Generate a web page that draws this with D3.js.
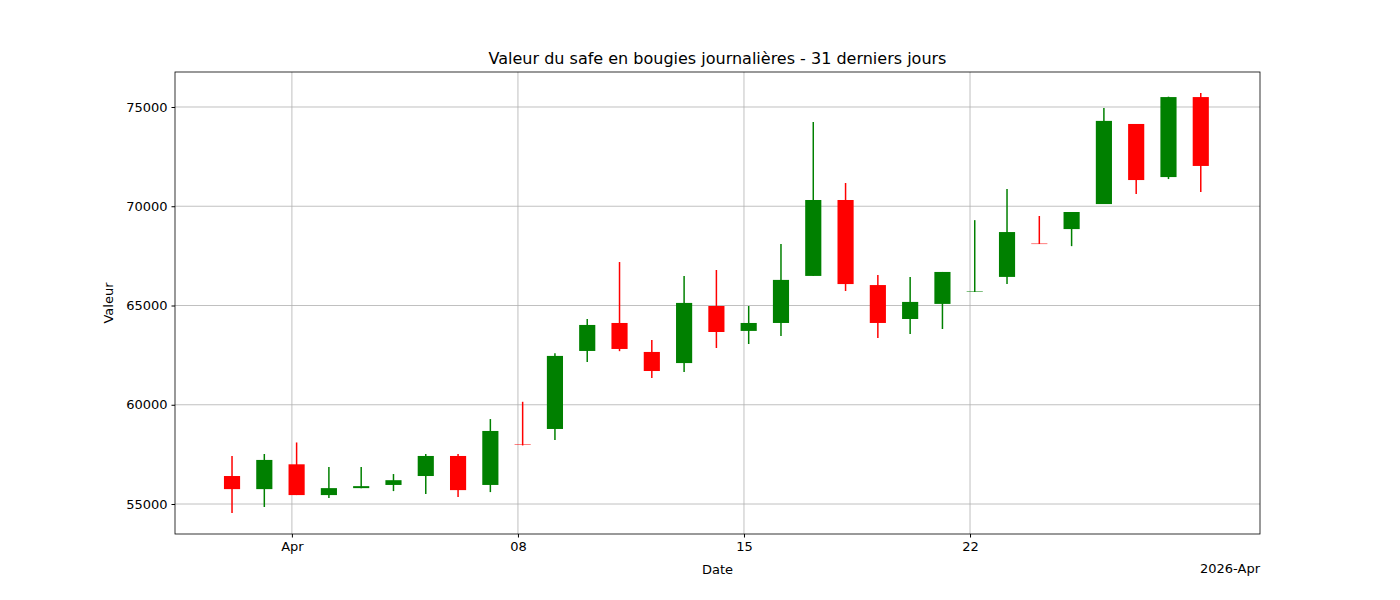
<!DOCTYPE html>
<html><head><meta charset="utf-8">
<script src="https://cdn.jsdelivr.net/npm/d3@7"></script>
<style>body{margin:0;background:#fff}text{font-family:"DejaVu Sans",sans-serif}</style>
</head><body><svg id="c" width="1400" height="600"></svg>
<script>
const startDate = "2026-03-30";
const opens  = [56410,55750,57000,55450,55800,55960,56410,57420,55960,58000,58780,62710,64120,62660,62100,64975,63720,64120,66490,70315,66030,64320,65080,65700,66440,68120,68850,70110,74145,71470,75500];
const closes = [55750,57220,55450,55800,55900,56200,57420,55700,58680,57980,62460,64020,62810,61700,65130,63665,64120,66290,70315,66080,64120,65180,66690,65720,68700,68100,69710,74300,71320,75500,72030];
const highs  = [57418,57520,58100,56860,56860,56510,57520,57520,59280,60150,62600,64320,67190,63260,66490,66790,64975,68100,74245,71170,66540,66440,66690,69300,70870,69510,69710,74950,74145,75520,75700];
const lows   = [54547,54850,55450,55300,55800,55650,55500,55350,55600,57950,58220,62150,62700,61350,61650,62860,63060,63460,66490,65730,63360,63565,63815,65680,66080,68100,67990,70110,70620,71370,70720];
const yTicks = [55000,60000,65000,70000,75000];
const xTickLabels = ["Apr","08","15","22"];
const xTickDates = ["2026-04-01","2026-04-08","2026-04-15","2026-04-22"];

const svg = d3.select("#c");
const L=175,R=1260,T=72,B=534;
const day=864e5;
const t0=new Date(startDate+"T03:30:00Z").getTime();
const data=opens.map((o,i)=>({t:new Date(t0+i*day),o,c:closes[i],h:highs[i],l:lows[i]}));
const apr1=new Date("2026-04-01T00:00:00Z").getTime();
const x=d3.scaleUtc().domain([new Date(apr1-3.62*day),new Date(apr1+29.98*day)]).range([L,R]);
const y=d3.scaleLinear().domain([53489,76763]).range([B,T]);

const g=svg.append("g");
// grid
xTickDates.forEach(d=>{const xx=x(new Date(d+"T00:00:00Z"));
 g.append("line").attr("x1",xx).attr("x2",xx).attr("y1",T).attr("y2",B).attr("stroke","#b0b0b0").attr("stroke-width",0.8);});
yTicks.forEach(v=>g.append("line").attr("x1",L).attr("x2",R).attr("y1",y(v)).attr("y2",y(v)).attr("stroke","#b0b0b0").attr("stroke-width",0.8));

const w=x(new Date(t0+0.5*day))-x(new Date(t0));
data.forEach(d=>{
 const col=d.c>=d.o?"green":"red";
 const cx=x(d.t);
 g.append("line").attr("x1",cx).attr("x2",cx).attr("y1",y(d.h)).attr("y2",y(d.l)).attr("stroke",col).attr("stroke-width",1.5);
 const top=y(Math.max(d.o,d.c)),bot=y(Math.min(d.o,d.c));
 g.append("rect").attr("x",cx-w/2).attr("y",top).attr("width",w).attr("height",Math.max(bot-top,0.5)).attr("fill",col);
});

svg.append("rect").attr("x",L).attr("y",T).attr("width",R-L).attr("height",B-T).attr("fill","none").attr("stroke","#000").attr("stroke-width",0.8);

const xa=svg.append("g").attr("transform",`translate(0,${B})`)
 .call(d3.axisBottom(x).tickValues(xTickDates.map(d=>new Date(d+"T00:00:00Z"))).tickFormat((d,i)=>xTickLabels[i]).tickSize(3.5).tickPadding(4));
const ya=svg.append("g").attr("transform",`translate(${L},0)`)
 .call(d3.axisLeft(y).tickValues(yTicks).tickFormat(d3.format("d")).tickSize(3.5).tickPadding(4));
[xa,ya].forEach(a=>{a.select(".domain").remove();a.selectAll("text").attr("font-size",13).attr("fill","#000").attr("font-family","DejaVu Sans");a.selectAll("line").attr("stroke","#000");});

svg.append("text").attr("x",(L+R)/2).attr("y",64).attr("text-anchor","middle").attr("font-size",16).text("Valeur du safe en bougies journalières - 31 derniers jours");
svg.append("text").attr("x",(L+R)/2).attr("y",574).attr("text-anchor","middle").attr("font-size",13).text("Date");
svg.append("text").attr("x",R).attr("y",573).attr("text-anchor","end").attr("font-size",13).text("2026-Apr");
svg.append("text").attr("transform",`translate(113,${(T+B)/2}) rotate(-90)`).attr("text-anchor","middle").attr("font-size",13).text("Valeur");
</script></body></html>
